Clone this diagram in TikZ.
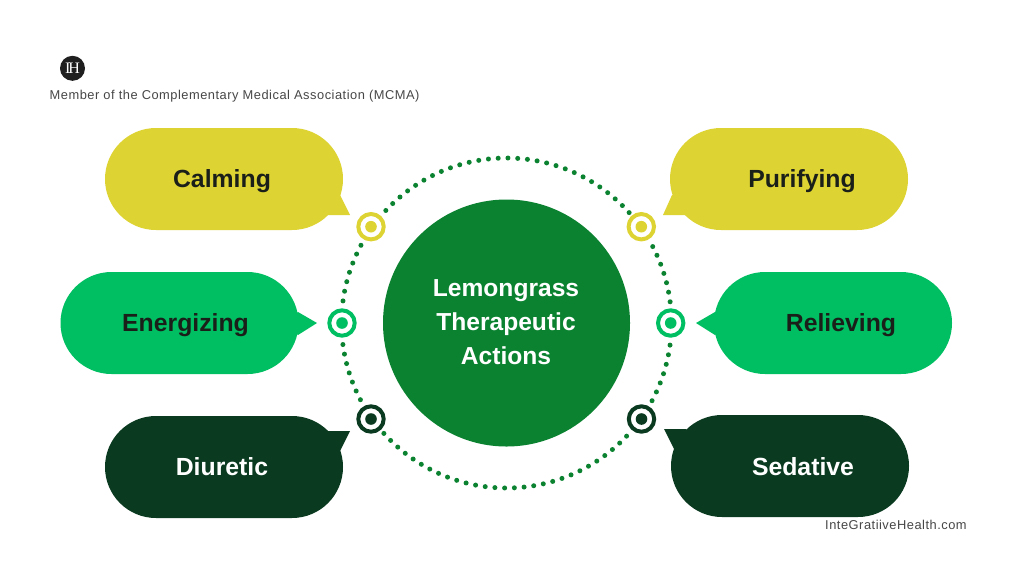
\documentclass[tikz,border=0pt]{standalone}
\usepackage{fontspec}
\setmainfont{Liberation Sans}
\newfontfamily\logofont{Liberation Serif}
\newfontfamily\smallfont[LetterSpace=4]{Liberation Sans}
\definecolor{lemon}{HTML}{DDD332}
\definecolor{leaf}{HTML}{00BF63}
\definecolor{pine}{HTML}{0A3A20}
\definecolor{core}{HTML}{0A8230}
\definecolor{ink}{HTML}{1A1F1A}
\tikzset{
  pill/.style={fill=#1, draw=none, rounded corners=51pt, minimum width=238pt, minimum height=102pt, inner sep=0pt},
  tail/.style={fill=#1, draw=none},
  actionlabel/.style={font=\fontsize{24.8}{28}\selectfont\bfseries, text=#1, inner sep=0pt, anchor=base},
  ringmark/.style={circle, draw=#1, line width=4pt, fill=white, minimum size=25.4pt, inner sep=0pt},
  ringdot/.style={circle, fill=#1, minimum size=11.6pt, inner sep=0pt},
  caption/.style={font=\smallfont\fontsize{12.85}{15}\selectfont, text=black!72, inner sep=0pt, anchor=base west}
}
\begin{document}
\begin{tikzpicture}[x=1pt,y=-1pt]
\useasboundingbox (0,0) rectangle (1024,576);
\fill[white] (0,0) rectangle (1024,576);

% Header
\node[circle, fill=black!88, minimum size=25pt, inner sep=0pt, text=white, font=\logofont\fontsize{16}{16}\selectfont] (logo) at (72.5,68.3) {I\kern-2ptH};
\node[caption] (member) at (49.5,99) {Member of the Complementary Medical Association (MCMA)};

% Speech bubbles
\node[pill=lemon] (calm) at (224,179) {};
\fill[tail=lemon] (340,195) -- (350,215) -- (328,215) -- (320,195) -- cycle;
\node[pill=leaf] (energy) at (179.5,323) {};
\fill[tail=leaf] (298,312) -- (317,323) -- (298,335) -- (285,323) -- cycle;
\node[pill=pine] (diur) at (224,467) {};
\fill[tail=pine] (340,451) -- (350,431) -- (328,431) -- (320,451) -- cycle;
\node[pill=lemon] (puri) at (789,179) {};
\fill[tail=lemon] (672,195) -- (663,215) -- (685,215) -- (692,195) -- cycle;
\node[pill=leaf] (reli) at (833,323) {};
\fill[tail=leaf] (715,312) -- (696,323) -- (715,335) -- (728,323) -- cycle;
\node[pill=pine] (seda) at (790,466) {};
\fill[tail=pine] (674,449) -- (664,429) -- (686,429) -- (694,449) -- cycle;

\node[actionlabel=ink] (calmtext) at (222,187.5) {Calming};
\node[actionlabel=ink] (energytext) at (185.5,331.5) {Energizing};
\node[actionlabel=white] (diurtext) at (222,475.5) {Diuretic};
\node[actionlabel=ink] (puritext) at (802,187.5) {Purifying};
\node[actionlabel=ink] (relitext) at (841,331.5) {Relieving};
\node[actionlabel=white] (sedatext) at (803,475.5) {Sedative};

% Dotted orbit: six arcs of evenly spaced dots running between the markers
\coordinate (hub) at (506.5,323);
\foreach \from/\to/\dotcount in {223/318/29, 138/43.3/29, 332.4/352.6/7, 7.7/28.1/7, 172.5/152.3/7, 187.7/208.1/7}{
  \pgfmathsetmacro{\lastindex}{int(\dotcount-1)}
  \foreach \k in {0,...,\lastindex}{
    \pgfmathsetmacro{\ang}{\from+(\to-\from)*\k/\lastindex}
    \fill[core] (hub) ++(\ang:165) circle[radius=2.5pt];
  }
}

% Central disc and title
\node[circle, fill=core, minimum size=247pt, inner sep=0pt] (center) at (hub) {};
\node[text=white, align=center, inner sep=0pt, font=\fontsize{24.6}{34}\selectfont\bfseries] (title) at (506,322) {Lemongrass\\Therapeutic\\Actions};

% Markers on the orbit
\foreach \n/\p/\c in {a/{(371,226.7)}/lemon,b/{(342,323)}/leaf,c/{(371,419)}/pine,d/{(641.3,226.7)}/lemon,e/{(670.7,323)}/leaf,f/{(641.5,419)}/pine}{
  \node[ringmark=\c] (m\n) at \p {};
  \node[ringdot=\c] (d\n) at \p {};
}

% Footer
\node[caption] (site) at (825,529.3) {InteGratiiveHealth.com};
\end{tikzpicture}
\end{document}
